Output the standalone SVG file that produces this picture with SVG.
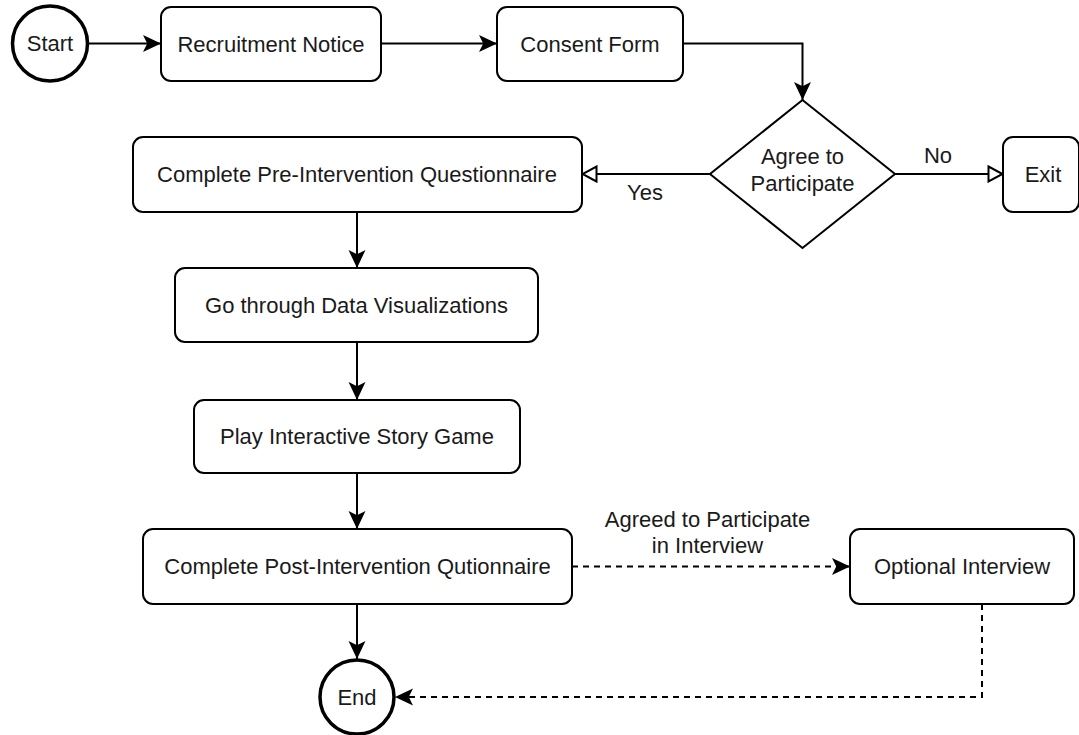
<svg xmlns="http://www.w3.org/2000/svg" width="1079" height="735" viewBox="0 0 1079 735">
<style>
.box{fill:#fff;stroke:#000;stroke-width:2}
.circ{fill:#fff;stroke:#000;stroke-width:3.5}
.lbl{font-family:"Liberation Sans",Arial,sans-serif;font-size:22px;fill:#1a1a1a;text-anchor:middle}
.edge{fill:none;stroke:#000;stroke-width:2}
.dash{stroke-dasharray:6 5}
</style>
<defs>
<marker id="arr" markerUnits="userSpaceOnUse" markerWidth="18" markerHeight="18" viewBox="0 0 17 16" refX="17" refY="8" orient="auto">
<path d="M0,0 L17,8 L0,16 L4,8 Z" fill="#000"/>
</marker>
<marker id="open" markerUnits="userSpaceOnUse" markerWidth="18" markerHeight="18" viewBox="0 0 17 18" refX="16" refY="9" orient="auto">
<path d="M1.5,1.5 L15.5,9 L1.5,16.5 Z" fill="#fff" stroke="#000" stroke-width="2"/>
</marker>
</defs>
<g id="connectors">
<path class="edge" d="M88,43.5 L161,43.5" marker-end="url(#arr)"/>
<path class="edge" d="M381,43.5 L497,43.5" marker-end="url(#arr)"/>
<path class="edge" d="M683,43.5 L802.5,43.5 L802.5,100" marker-end="url(#arr)"/>
<path class="edge" d="M710,174 L582,174" marker-end="url(#open)"/>
<path class="edge" d="M895,174 L1003,174" marker-end="url(#open)"/>
<path class="edge" d="M357,212 L357,268" marker-end="url(#arr)"/>
<path class="edge" d="M357,342 L357,400" marker-end="url(#arr)"/>
<path class="edge" d="M357,473 L357,529" marker-end="url(#arr)"/>
<path class="edge" d="M357,604 L357,659" marker-end="url(#arr)"/>
<path class="edge dash" d="M572,566.5 L850,566.5" marker-end="url(#arr)"/>
<path class="edge dash" d="M982,604 L982,697 L395,697" marker-end="url(#arr)"/>
<text class="lbl" x="645" y="200">Yes</text>
<text class="lbl" x="938" y="163">No</text>
<text class="lbl" x="707.5" y="527">Agreed to Participate</text>
<text class="lbl" x="707.5" y="553">in Interview</text>
</g>
<g id="start">
<circle class="circ" cx="50" cy="43.5" r="37.5"/>
<text class="lbl" x="50" y="51">Start</text>
</g>
<g id="recruitment">
<rect class="box" x="161" y="7" width="220" height="74" rx="10"/>
<text class="lbl" x="271" y="51.5">Recruitment Notice</text>
</g>
<g id="consent">
<rect class="box" x="497" y="7" width="186" height="74" rx="10"/>
<text class="lbl" x="590" y="51.5">Consent Form</text>
</g>
<g id="agree">
<polygon class="box" points="802.5,100 895,174 802.5,248 710,174"/>
<text class="lbl" x="802.5" y="164">Agree to</text>
<text class="lbl" x="802.5" y="191">Participate</text>
</g>
<g id="exit">
<rect class="box" x="1003" y="137" width="76" height="75" rx="10"/>
<text class="lbl" x="1043" y="182">Exit</text>
</g>
<g id="pre">
<rect class="box" x="133" y="137" width="449" height="75" rx="10"/>
<text class="lbl" x="357" y="182">Complete Pre-Intervention Questionnaire</text>
</g>
<g id="dataviz">
<rect class="box" x="175" y="268" width="363" height="74" rx="10"/>
<text class="lbl" x="356.5" y="312.5">Go through Data Visualizations</text>
</g>
<g id="game">
<rect class="box" x="194" y="400" width="326" height="73" rx="10"/>
<text class="lbl" x="357" y="444">Play Interactive Story Game</text>
</g>
<g id="post">
<rect class="box" x="143" y="529" width="429" height="75" rx="10"/>
<text class="lbl" x="357.5" y="574">Complete Post-Intervention Qutionnaire</text>
</g>
<g id="interview">
<rect class="box" x="850" y="529" width="224" height="75" rx="10"/>
<text class="lbl" x="962" y="574">Optional Interview</text>
</g>
<g id="end">
<circle class="circ" cx="357" cy="697" r="37"/>
<text class="lbl" x="357" y="705">End</text>
</g>
</svg>
